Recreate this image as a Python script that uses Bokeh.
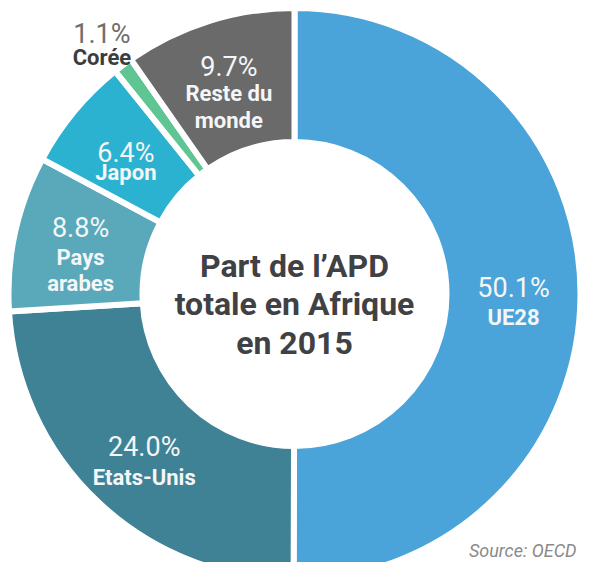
import numpy as np
from bokeh.plotting import figure
from bokeh.models import Range1d, ColumnDataSource
from bokeh.core.properties import value
from bokeh.embed import file_html
from bokeh.resources import INLINE

# ---- data ----
categories = ["UE28", "Etats-Unis", "Pays arabes", "Japon", "Corée", "Reste du monde"]
shares = [50.1, 24.0, 8.8, 6.4, 1.1, 9.7]
label_names = ["UE28", "Etats-Unis", "Pays\narabes", "Japon", "Corée", "Reste du\nmonde"]
colors = ["#4aa3d9", "#3f8296", "#5aa9bb", "#2ab2d0", "#5ec593", "#6a6a6a"]
title_lines = ["Part de l\u2019APD", "totale en Afrique", "en 2015"]
source_text = "Source: OECD"

# ---- layout ----
W, H = 581, 562
cx, cy = 294, H - 293.5
R_out, R_in = 283, 155
gap = 6
pct_gap = [31, 32, 31, 21, 26, 28]   # vertical distance pct line -> first name line
name_gap = 26.5
outside_radius = 321
FONT = "Roboto"

total = sum(shares)
frac = np.array(shares) / total
cum = np.concatenate([[0.0], np.cumsum(frac)])
start = np.pi / 2 - 2 * np.pi * cum[:-1]
end = np.pi / 2 - 2 * np.pi * cum[1:]
mid_theta = 2 * np.pi * (cum[:-1] + cum[1:]) / 2  # clockwise from top

p = figure(width=W, height=H, x_range=Range1d(0, W), y_range=Range1d(0, H),
           output_backend="svg", toolbar_location=None, min_border=0)
p.axis.visible = False
p.grid.visible = False
p.outline_line_color = None
p.background_fill_color = "white"
p.border_fill_color = "white"

src = ColumnDataSource(dict(start=start, end=end, color=colors))
p.annular_wedge(x=cx, y=cy, inner_radius=R_in - gap / 2, outer_radius=R_out + gap / 2,
                start_angle="start", end_angle="end", direction="clock",
                fill_color="color", line_color="white", line_width=gap, source=src)

# ---- slice labels ----
pct_x, pct_y, pct_t, pct_c = [], [], [], []
nm_x, nm_y, nm_t, nm_c = [], [], [], []
pct_size, nm_size = 27, 22
for i, (v, name) in enumerate(zip(shares, label_names)):
    outside = frac[i] < 0.02
    rl = outside_radius if outside else (R_out + R_in) / 2
    ax = cx + rl * np.sin(mid_theta[i])
    ay = cy + rl * np.cos(mid_theta[i])
    names = name.split("\n")
    offs = [0.0, pct_gap[i]] + [pct_gap[i] + name_gap * k for k in range(1, len(names))]
    c0 = (offs[0] + offs[-1]) / 2
    offs = [o - c0 for o in offs]
    pct_x.append(ax)
    pct_y.append(ay - offs[0] - 0.355 * pct_size)
    pct_t.append(f"{v:.1f}%")
    pct_c.append("#6e6e6e" if outside else "#f4f6f7")
    for k, nline in enumerate(names):
        nm_x.append(ax)
        nm_y.append(ay - offs[k + 1] - 0.355 * nm_size)
        nm_t.append(nline)
        nm_c.append("#3a3c3e" if outside else "#f4f6f7")

p.text(x=pct_x, y=pct_y, text=pct_t, text_color=pct_c,
       text_font=value(FONT), text_font_size=f"{pct_size}px",
       text_align="center", text_baseline="alphabetic")
p.text(x=nm_x, y=nm_y, text=nm_t, text_color=nm_c,
       text_font=value(FONT), text_font_size=f"{nm_size}px", text_font_style="bold",
       text_align="center", text_baseline="alphabetic")

# ---- centre title ----
title_gap = 38.5
ty = [cy + (1 - k) * title_gap - 10 for k in range(len(title_lines))]
p.text(x=[cx] * len(title_lines), y=ty, text=title_lines, text_color="#3f4144",
       text_font=value(FONT), text_font_size="32px", text_font_style="bold",
       text_align="center", text_baseline="alphabetic")

# ---- source ----
p.text(x=[W - 5], y=[12], text=[source_text], text_color="#8a8a8a",
       text_font=value(FONT), text_font_size="18px", text_font_style="italic",
       text_align="right", text_baseline="alphabetic")

open("out.html", "w").write(file_html(p, INLINE))
